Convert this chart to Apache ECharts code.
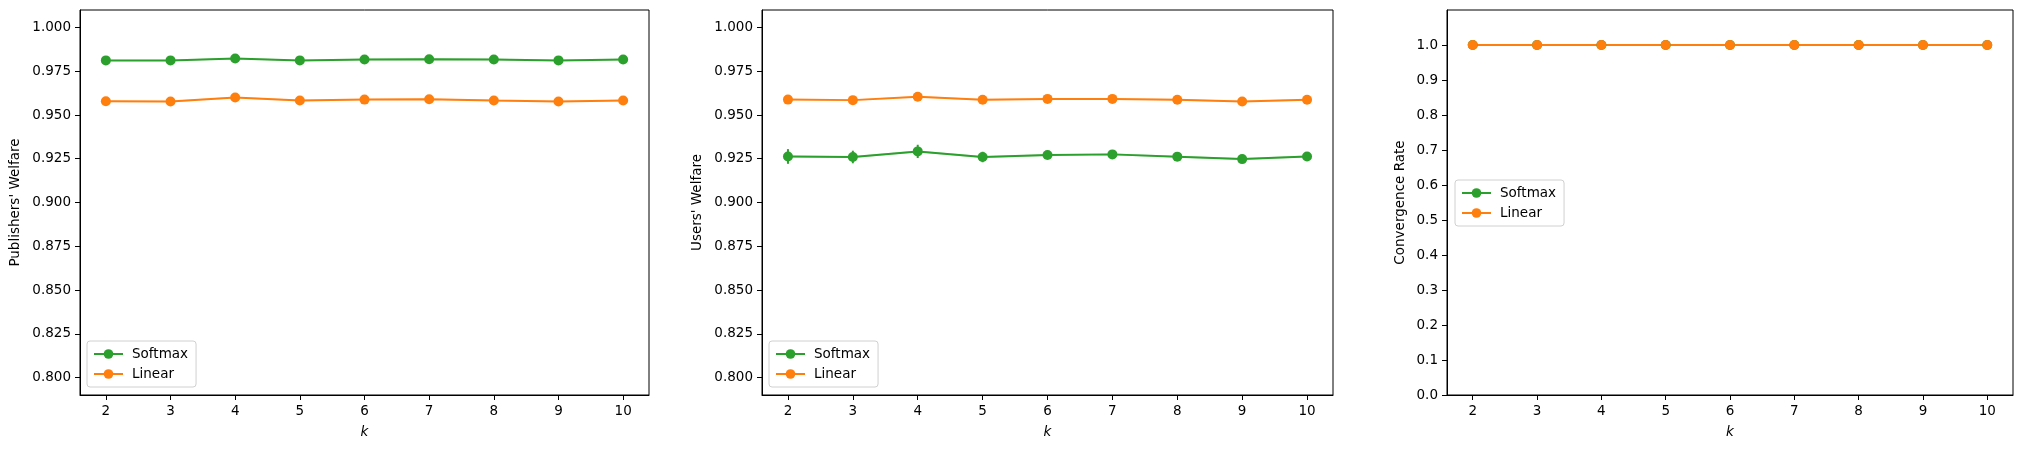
<!DOCTYPE html>
<html><head><meta charset="utf-8">
<script src="https://cdn.jsdelivr.net/npm/echarts@6/dist/echarts.min.js"></script>
<style>html,body{margin:0;padding:0;background:#fff}#c{width:2026px;height:449px}</style>
</head><body><div id="c"></div>
<script>
const kValues = [2, 3, 4, 5, 6, 7, 8, 9, 10];
const welfareTicks = [0.800, 0.825, 0.850, 0.875, 0.900, 0.925, 0.950, 0.975, 1.000];
const rateTicks = [0.0, 0.1, 0.2, 0.3, 0.4, 0.5, 0.6, 0.7, 0.8, 0.9, 1.0];

const pubSoftmax = [0.9812, 0.9812, 0.9823, 0.9812, 0.9817, 0.9819, 0.9817, 0.9812, 0.9817];
const pubLinear  = [0.9579, 0.9577, 0.9600, 0.9583, 0.9588, 0.9590, 0.9583, 0.9577, 0.9583];
const pubSoftmaxErr = [0.0005, 0.0005, 0.0005, 0.0005, 0.0005, 0.0005, 0.0005, 0.0005, 0.0005];
const pubLinearErr  = [0.0010, 0.0005, 0.0005, 0.0005, 0.0005, 0.0005, 0.0005, 0.0005, 0.0005];
const pubSoftmaxBand = [0.0004, 0.0004, 0.0004, 0.0004, 0.0004, 0.0004, 0.0004, 0.0004, 0.0004];
const pubLinearBand  = [0.0004, 0.0004, 0.0004, 0.0004, 0.0004, 0.0004, 0.0004, 0.0004, 0.0004];

const usrSoftmax = [0.9263, 0.9260, 0.9292, 0.9260, 0.9271, 0.9275, 0.9262, 0.9248, 0.9263];
const usrLinear  = [0.9588, 0.9585, 0.9604, 0.9587, 0.9592, 0.9592, 0.9587, 0.9577, 0.9587];
const usrSoftmaxErr = [0.0042, 0.0036, 0.0038, 0.0030, 0.0022, 0.0022, 0.0015, 0.0012, 0.0012];
const usrLinearErr  = [0.0012, 0.0010, 0.0010, 0.0006, 0.0006, 0.0006, 0.0006, 0.0006, 0.0006];
const usrSoftmaxBand = [0.0005, 0.0005, 0.0005, 0.0005, 0.0005, 0.0005, 0.0005, 0.0005, 0.0005];
const usrLinearBand  = [0.0004, 0.0004, 0.0004, 0.0004, 0.0004, 0.0004, 0.0004, 0.0004, 0.0004];

const convSoftmax = [1, 1, 1, 1, 1, 1, 1, 1, 1];
const convLinear  = [1, 1, 1, 1, 1, 1, 1, 1, 1];

const GREEN = '#2ca02c', ORANGE = '#ff7f0e';
const FONT = 'DejaVu Sans';
const FS = 13.5;

const chart = echarts.init(document.getElementById('c'), null, {renderer: 'canvas'});

const grids = [
  {left: 80, top: 10, width: 569, height: 385},
  {left: 762, top: 10, width: 571, height: 385},
  {left: 1447, top: 10, width: 566, height: 385}
];

function xAxis(i) {
  return {
    type: 'value', gridIndex: i, min: 1.6, max: 10.4,
    name: 'k', nameLocation: 'middle', nameGap: 30,
    nameTextStyle: {fontFamily: FONT, fontSize: FS, fontStyle: 'italic', color: '#000'},
    axisLine: {show: true, lineStyle: {color: '#000', width: 1}},
    axisTick: {show: true, length: 5, lineStyle: {color: '#000', width: 1}, customValues: kValues},
    axisLabel: {fontFamily: FONT, fontSize: FS, color: '#000', margin: 9, customValues: kValues},
    splitLine: {show: false}
  };
}
function yAxis(i, name, min, max, ticks, dec, gap) {
  return {
    type: 'value', gridIndex: i, min: min, max: max,
    name: name, nameLocation: 'middle', nameGap: gap, nameRotate: 90,
    nameTextStyle: {fontFamily: FONT, fontSize: FS, color: '#000'},
    axisLine: {show: true, lineStyle: {color: '#000', width: 1}},
    axisTick: {show: true, length: 5, lineStyle: {color: '#000', width: 1}, customValues: ticks},
    axisLabel: {fontFamily: FONT, fontSize: FS, color: '#000', margin: 9, customValues: ticks,
      formatter: v => Number(v).toFixed(dec)},
    splitLine: {show: false}
  };
}

function lineSeries(name, color, i, vals) {
  return {
    type: 'line', name: name, xAxisIndex: i, yAxisIndex: i,
    data: kValues.map((k, j) => [k, vals[j]]),
    symbol: 'circle', symbolSize: 10, showSymbol: true,
    lineStyle: {color: color, width: 2},
    itemStyle: {color: color},
    emphasis: {disabled: true},
    animation: false, z: 3
  };
}
function errSeries(color, i, vals, errs) {
  return {
    type: 'custom', name: 'err', xAxisIndex: i, yAxisIndex: i,
    data: kValues.map((k, j) => [k, vals[j], errs[j]]),
    renderItem: function (params, api) {
      const x = api.value(0), y = api.value(1), e = api.value(2);
      const p1 = api.coord([x, y - e]), p2 = api.coord([x, y + e]);
      return {type: 'line', shape: {x1: p1[0], y1: p1[1], x2: p2[0], y2: p2[1]},
        style: {stroke: color, lineWidth: 2}};
    },
    animation: false, z: 2, silent: true
  };
}
function bandSeries(color, i, vals, errs) {
  const data = [];
  for (let j = 0; j < kValues.length - 1; j++) {
    data.push([kValues[j], vals[j], errs[j], kValues[j + 1], vals[j + 1], errs[j + 1]]);
  }
  return {
    type: 'custom', name: 'band', xAxisIndex: i, yAxisIndex: i, data: data,
    renderItem: function (params, api) {
      const x0 = api.value(0), y0 = api.value(1), e0 = api.value(2);
      const x1 = api.value(3), y1 = api.value(4), e1 = api.value(5);
      const pts = [api.coord([x0, y0 - e0]), api.coord([x1, y1 - e1]),
                   api.coord([x1, y1 + e1]), api.coord([x0, y0 + e0])];
      return {type: 'polygon', shape: {points: pts}, style: {fill: color, opacity: 0.3}};
    },
    animation: false, z: 1, silent: true
  };
}

function legend(pos) {
  return Object.assign({
    data: ['Softmax', 'Linear'], orient: 'vertical',
    itemWidth: 29, itemHeight: 12, itemGap: 6,
    textStyle: {fontFamily: FONT, fontSize: FS, color: '#000', padding: [0, 0, 0, 4]},
    borderColor: '#d0d0d0', borderWidth: 1, borderRadius: 3,
    padding: [6, 8, 6, 6], backgroundColor: 'rgba(255,255,255,0.8)'
  }, pos);
}

const option = {
  backgroundColor: '#fff',
  animation: false,
  grid: grids.map(g => Object.assign({show: true, borderColor: '#000', borderWidth: 1, backgroundColor: 'transparent'}, g)),
  xAxis: [xAxis(0), xAxis(1), xAxis(2)],
  yAxis: [
    yAxis(0, "Publishers' Welfare", 0.79, 1.01, welfareTicks, 3, 58),
    yAxis(1, "Users' Welfare", 0.79, 1.01, welfareTicks, 3, 58),
    yAxis(2, 'Convergence Rate', 0, 1.1, rateTicks, 1, 40)
  ],
  legend: [
    legend({left: 87, top: 341}),
    legend({left: 769, top: 341}),
    legend({left: 1455, top: 180})
  ],
  series: [
    bandSeries(GREEN, 0, pubSoftmax, pubSoftmaxBand),
    bandSeries(ORANGE, 0, pubLinear, pubLinearBand),
    errSeries(GREEN, 0, pubSoftmax, pubSoftmaxErr),
    errSeries(ORANGE, 0, pubLinear, pubLinearErr),
    lineSeries('Softmax', GREEN, 0, pubSoftmax),
    lineSeries('Linear', ORANGE, 0, pubLinear),
    bandSeries(GREEN, 1, usrSoftmax, usrSoftmaxBand),
    bandSeries(ORANGE, 1, usrLinear, usrLinearBand),
    errSeries(GREEN, 1, usrSoftmax, usrSoftmaxErr),
    errSeries(ORANGE, 1, usrLinear, usrLinearErr),
    lineSeries('Softmax', GREEN, 1, usrSoftmax),
    lineSeries('Linear', ORANGE, 1, usrLinear),
    lineSeries('Softmax', GREEN, 2, convSoftmax),
    lineSeries('Linear', ORANGE, 2, convLinear)
  ]
};
chart.setOption(option);
</script>
</body></html>
